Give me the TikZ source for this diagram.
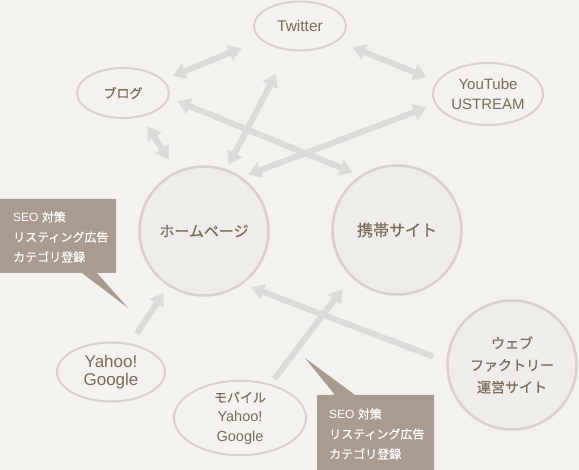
\documentclass[tikz,border=0pt]{standalone}
\usepackage{fontspec}
\setmainfont{Liberation Sans}
\newfontfamily\jp[FakeBold=0.4]{Noto Sans CJK JP}
\usetikzlibrary{arrows.meta,shapes.geometric}
\definecolor{paper}{HTML}{F3F2EF}
\definecolor{rim}{HTML}{D6D1CB}
\definecolor{disc}{HTML}{EEEDEA}
\definecolor{ink}{HTML}{7A6A58}
\definecolor{link}{HTML}{DCDBD9}
\definecolor{tag}{HTML}{A99B90}
\tikzset{
  bubble/.style={ellipse, draw=rim, line width=2pt, fill=paper, text=ink,
    inner sep=0pt, align=center},
  disk/.style={circle, draw=rim, line width=2.5pt, fill=disc, text=ink,
    inner sep=0pt, align=center, minimum size=129pt},
  note/.style={text=white, align=left, anchor=west, inner sep=0pt,
    font=\fontsize{12}{20}\selectfont},
  duo/.style={draw=link, line width=6pt,
    {Triangle[length=13pt,width=16pt]}-{Triangle[length=13pt,width=16pt]}},
  uno/.style={draw=link, line width=6pt, -{Triangle[length=13pt,width=16pt]}}
}
\begin{document}
\begin{tikzpicture}[x=1pt,y=-1pt]
  % Page and background
  \fill[paper] (0,0) rectangle (579,470);
  \useasboundingbox (0,0) rectangle (579,470);

  % Small media ellipses
  \node[bubble, minimum width=92pt, minimum height=49pt, font=\fontsize{15.5}{18}\selectfont]
    (twitter) at (300,26) {Twitter};
  \node[bubble, minimum width=92pt, minimum height=50pt, font=\fontsize{13}{18}\selectfont\jp]
    (blog) at (123,93) {ブログ};
  \node[bubble, minimum width=110pt, minimum height=62pt, font=\fontsize{15}{20}\selectfont]
    (youtube) at (488,94) {YouTube\\USTREAM};
  \node[bubble, minimum width=108pt, minimum height=59pt, font=\fontsize{17}{18}\selectfont]
    (yahoo) at (111,372) {Yahoo!\\Google};
  \node[bubble, minimum width=132pt, minimum height=73pt, font=\fontsize{14.5}{19.5}\selectfont]
    (mobile) at (240,418) {{\jp\fontsize{13}{19.5}\selectfont モバイル}\\Yahoo!\\Google};

  % Main sites
  \node[disk, font=\fontsize{15}{18}\selectfont\jp] (home) at (204,231) {ホームページ};
  \node[disk, font=\fontsize{16}{18}\selectfont\jp] (keitai) at (397,230) {携帯サイト};
  \node[disk, font=\fontsize{14}{22}\selectfont\jp] (web) at (512,365) {ウェブ\\ファクトリー\\運営サイト};

  % Two-way links
  \foreach \a/\b/\s/\t in {twitter.200/blog.18/21pt/10pt,
      twitter.-22/youtube.166/16pt/11pt,
      blog.-52/home.115/11pt/14pt,
      home.70/twitter.244/5pt/26pt,
      blog.-6/keitai.124/9pt/8pt,
      home.55/youtube.191/7pt/9pt} {
    \draw[duo, shorten <=\s, shorten >=\t] (\a) -- (\b);
  }
  % One-way links
  \foreach \a/\b/\s/\t in {yahoo.56/home.237/12pt/8pt,
      mobile.48/keitai.226/6pt/15pt,
      web.177/home.-54/14pt/9pt} {
    \draw[uno, shorten <=\s, shorten >=\t] (\a) -- (\b);
  }

  % Callouts
  \fill[tag] (0,199) -- (116,199) -- (116,273) -- (97,273) -- (128,308)
    -- (82,273) -- (0,273) -- cycle;
  \node[note] (seoA) at (13,237) {SEO {\jp 対策}\\{\jp リスティング広告}\\{\jp カテゴリ登録}};
  \fill[tag] (317,395) -- (335,395) -- (305,358) -- (355,395) -- (434,395)
    -- (434,470) -- (317,470) -- cycle;
  \node[note] (seoB) at (329,434) {SEO {\jp 対策}\\{\jp リスティング広告}\\{\jp カテゴリ登録}};
\end{tikzpicture}
\end{document}
